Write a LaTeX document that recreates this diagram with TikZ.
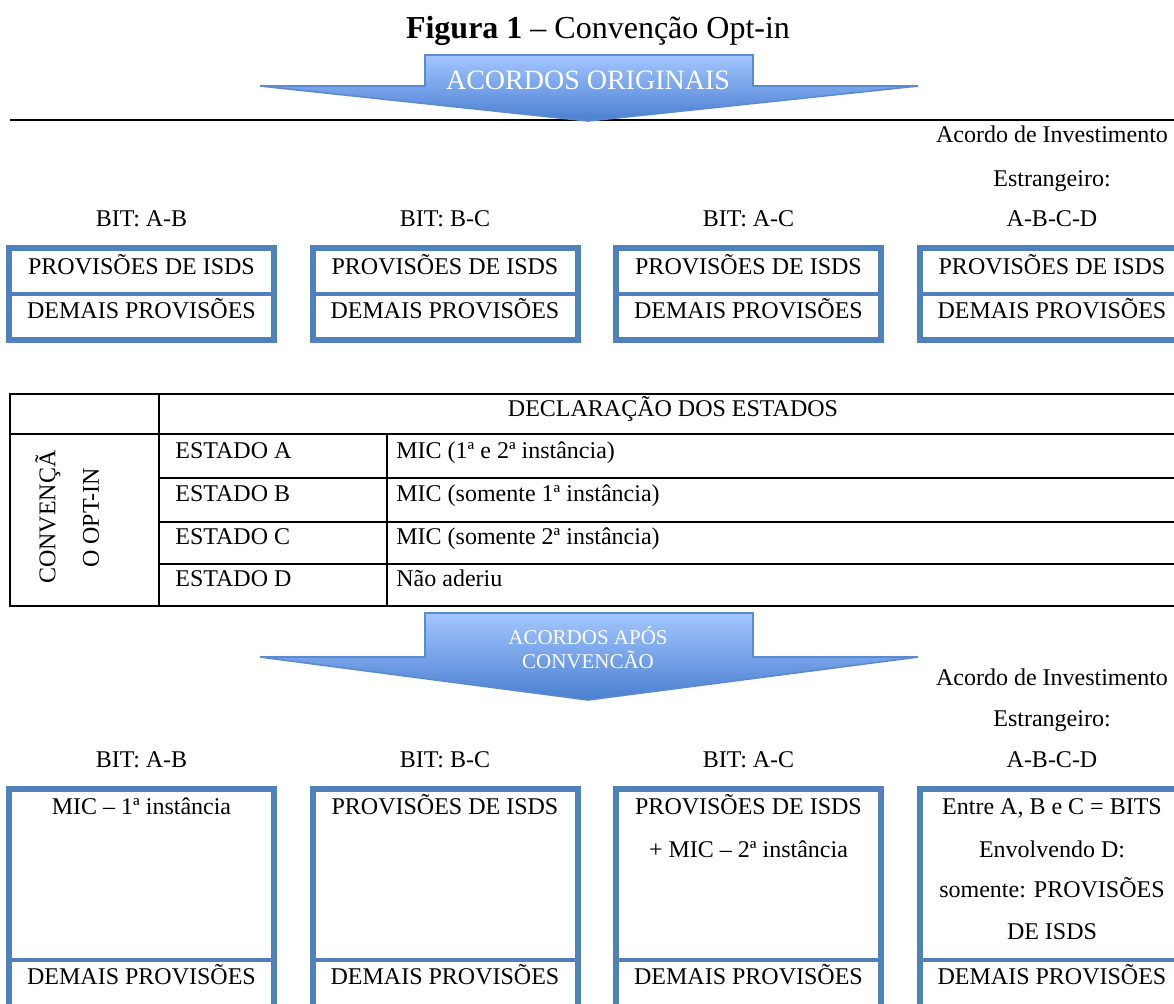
\documentclass[tikz,border=0pt]{standalone}
\usepackage{fontspec}
\setmainfont{Liberation Serif}
\definecolor{boxblue}{HTML}{4F81BD}
\definecolor{arrtop}{HTML}{A3C6FF}
\definecolor{arrbot}{HTML}{4A7FD0}
\definecolor{arredge}{HTML}{5A8AD0}
\begin{document}
\begin{tikzpicture}[x=0.5pt,y=-0.5pt,
  txt/.style={inner sep=0pt, anchor=base, font=\fontsize{12}{14}\selectfont},
  ltxt/.style={txt, anchor=base west},
  bluebox/.style={draw=boxblue, line width=3pt, line join=miter},
  bluediv/.style={draw=boxblue, line width=2pt},
  tline/.style={draw=black, line width=1pt},
  bigarrow/.style={top color=arrtop, bottom color=arrbot, draw=arredge, line width=0.8pt, line join=miter},
  arrtxt/.style={inner sep=0pt, anchor=base, text=white}]
\useasboundingbox (0,0) rectangle (1174,1003);
\clip (0,0) rectangle (1174,1003);

% title
\node[txt, font=\fontsize{16}{19}\selectfont] (title) at (598,38) {\textbf{Figura 1} – Convenção Opt-in};

% top rule and first arrow
\draw[black, line width=1pt] (10,120) -- (1174,120);
\draw[bigarrow] (425,55) -- (753,55) -- (753,86) -- (918,86) -- (588,121) -- (260,86) -- (425,86) -- cycle;
\node[arrtxt, font=\fontsize{14}{16}\selectfont] (arr1) at (588,89) {ACORDOS ORIGINAIS};

% labels above first row
\node[txt] (acordo1) at (1052,142) {Acordo de Investimento};
\node[txt] (estr1) at (1052,186) {Estrangeiro:};
\node[txt] (bitab1) at (141.5,226) {BIT: A-B};
\node[txt] (bitbc1) at (445,226) {BIT: B-C};
\node[txt] (bitac1) at (748.5,226) {BIT: A-C};
\node[txt] (abcd1) at (1052,226) {A-B-C-D};

% first row of boxes
\foreach \L [count=\i] in {6,309.5,613,916.5}{
  \draw[bluebox] (\L+3,248) rectangle (\L+268,340);
  \draw[bluediv] (\L+3,294) -- (\L+268,294);
  \node[txt] (isds\i) at (\L+135.5,274) {PROVISÕES DE ISDS};
  \node[txt] (demais\i) at (\L+135.5,318) {DEMAIS PROVISÕES};
}

% table
\draw[tline] (10,394) rectangle (1187,606);
\draw[tline] (10,434) -- (1187,434);
\foreach \yy in {478,522,564}{ \draw[tline] (159,\yy) -- (1187,\yy); }
\draw[tline] (159,394) -- (159,606);
\draw[tline] (387,434) -- (387,606);
\node[txt] (decl) at (673,416) {DECLARAÇÃO DOS ESTADOS};
\node[txt, rotate=90, anchor=center] (conv1) at (48,517) {CONVENÇÃ};
\node[txt, rotate=90, anchor=center] (conv2) at (91,518) {O OPT-IN};
\node[ltxt] (ea) at (175,458) {ESTADO A};
\node[ltxt] (eb) at (175,501) {ESTADO B};
\node[ltxt] (ec) at (175,544) {ESTADO C};
\node[ltxt] (ed) at (175,586) {ESTADO D};
\node[ltxt] (ma) at (396,458) {MIC (1ª e 2ª instância)};
\node[ltxt] (mb) at (396,501) {MIC (somente 1ª instância)};
\node[ltxt] (mc) at (396,544) {MIC (somente 2ª instância)};
\node[ltxt] (md) at (396,586) {Não aderiu};

% second arrow
\draw[bigarrow] (425,613) -- (753,613) -- (753,657) -- (918,657) -- (588,700) -- (260,657) -- (425,657) -- cycle;
\node[arrtxt, font=\fontsize{10.5}{12}\selectfont] (arr2a) at (588,644) {ACORDOS APÓS};
\node[arrtxt, font=\fontsize{10.5}{12}\selectfont] (arr2b) at (588,668) {CONVENCÃO};

% labels above second row
\node[txt] (acordo2) at (1052,685) {Acordo de Investimento};
\node[txt] (estr2) at (1052,726) {Estrangeiro:};
\node[txt] (bitab2) at (141.5,767) {BIT: A-B};
\node[txt] (bitbc2) at (445,767) {BIT: B-C};
\node[txt] (bitac2) at (748.5,767) {BIT: A-C};
\node[txt] (abcd2) at (1052,767) {A-B-C-D};

% second row of boxes
\foreach \L [count=\i] in {6,309.5,613,916.5}{
  \draw[bluebox] (\L+3,789) rectangle (\L+268,1012);
  \draw[bluediv] (\L+3,960) -- (\L+268,960);
  \node[txt] (dem\i) at (\L+135.5,984) {DEMAIS PROVISÕES};
}
\node[txt] (b1a) at (141.5,814) {MIC – 1ª instância};
\node[txt] (b2a) at (445,814) {PROVISÕES DE ISDS};
\node[txt] (b3a) at (748.5,814) {PROVISÕES DE ISDS};
\node[txt] (b3b) at (748.5,857) {+ MIC – 2ª instância};
\node[txt] (b4a) at (1052,814) {Entre A, B e C = BITS};
\node[txt] (b4b) at (1052,857) {Envolvendo D:};
\node[txt] (b4c) at (1052,897) {somente: PROVISÕES};
\node[txt] (b4d) at (1052,939) {DE ISDS};
\end{tikzpicture}
\end{document}
